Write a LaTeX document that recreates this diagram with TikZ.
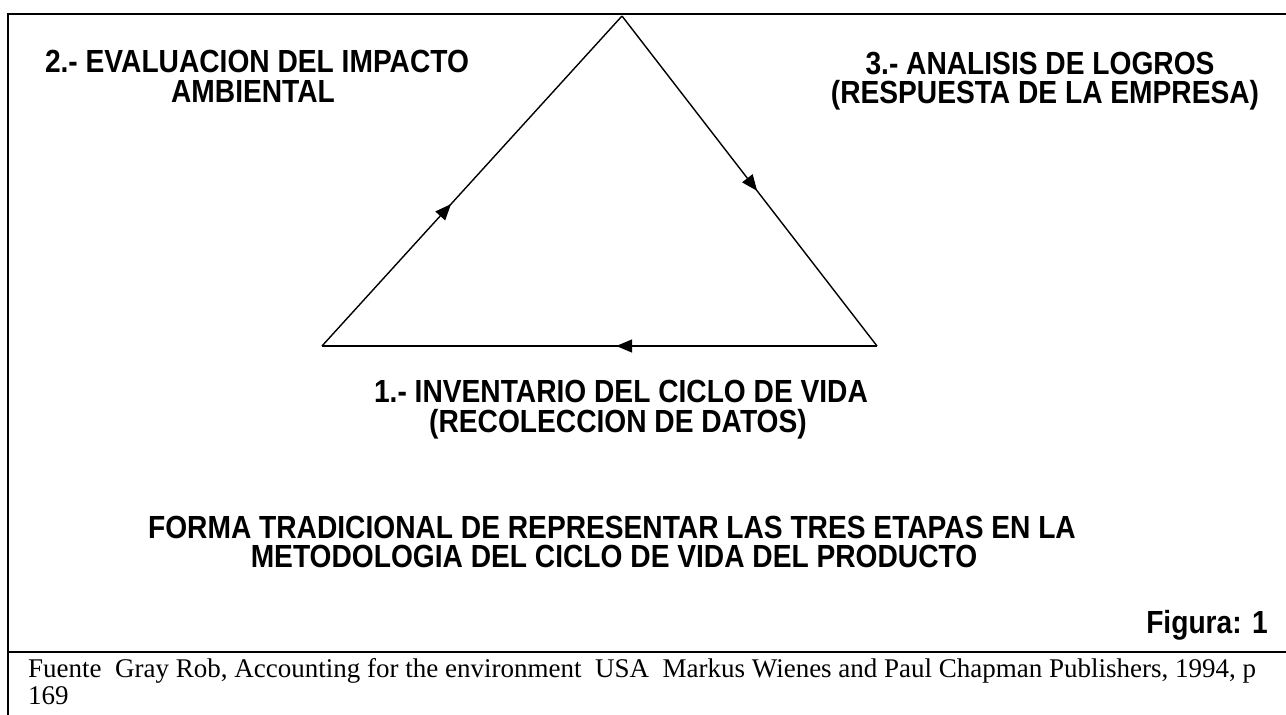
\documentclass[tikz,border=0pt]{standalone}
\usepackage{fontspec}
\setmainfont{Liberation Serif}
\newfontfamily\hdr[FakeStretch=0.88]{Liberation Sans}
\usetikzlibrary{arrows.meta,decorations.markings}
\tikzset{
  frame/.style={line width=2pt,black},
  side/.style={line width=1.4pt,black,postaction={decorate},
    decoration={markings,mark=at position #1 with {\arrow{Triangle[length=16pt,width=13pt]}}}},
  head/.style={inner sep=0pt,anchor=base,text height=24pt,text depth=4pt,
    font=\hdr\bfseries\fontsize{32}{30}\selectfont},
  foot/.style={font=\fontsize{27}{28}\selectfont,anchor=base west,inner sep=0pt,text height=19pt,text depth=5pt}
}
\begin{document}
\begin{tikzpicture}[x=1pt,y=-1pt]
\useasboundingbox (0,0) rectangle (1286,715);
\coordinate (tl) at (8,14);
\coordinate (tr) at (1286,14);
\coordinate (bl) at (8,715);
\coordinate (sl) at (8,652);
\coordinate (sr) at (1286,652);
\draw[frame] (tr) -- (tl) -- (bl);
\draw[frame] (sl) -- (sr);
\coordinate (A) at (622,16);
\coordinate (L) at (322,346);
\coordinate (R) at (877,346);
\draw[side=0.47] (R) -- (L);
\draw[side=0.43] (L) -- (A);
\draw[side=0.53] (A) -- (R);
\node[head] (t2a) at (257,72) {2.- EVALUACION DEL IMPACTO};
\node[head] (t2b) at (253,102) {AMBIENTAL};
\node[head] (t3a) at (1040,74) {3.- ANALISIS DE LOGROS};
\node[head] (t3b) at (1045,103) {(RESPUESTA DE LA EMPRESA)};
\node[head] (t1a) at (621,402) {1.- INVENTARIO DEL CICLO DE VIDA};
\node[head] (t1b) at (618,432) {(RECOLECCION DE DATOS)};
\node[head] (tfa) at (612,538) {FORMA TRADICIONAL DE REPRESENTAR LAS TRES ETAPAS EN LA};
\node[head] (tfb) at (614,567) {METODOLOGIA DEL CICLO DE VIDA DEL PRODUCTO};
\node[head,anchor=base east] (fig) at (1268,633) {Figura: 1};
\node[foot] (f1) at (28,677) {Fuente\ \ Gray Rob, Accounting for the environment\ \ USA\ \ Markus Wienes and Paul Chapman Publishers, 1994, p};
\node[foot] (f2) at (28,704) {169};
\end{tikzpicture}
\end{document}
